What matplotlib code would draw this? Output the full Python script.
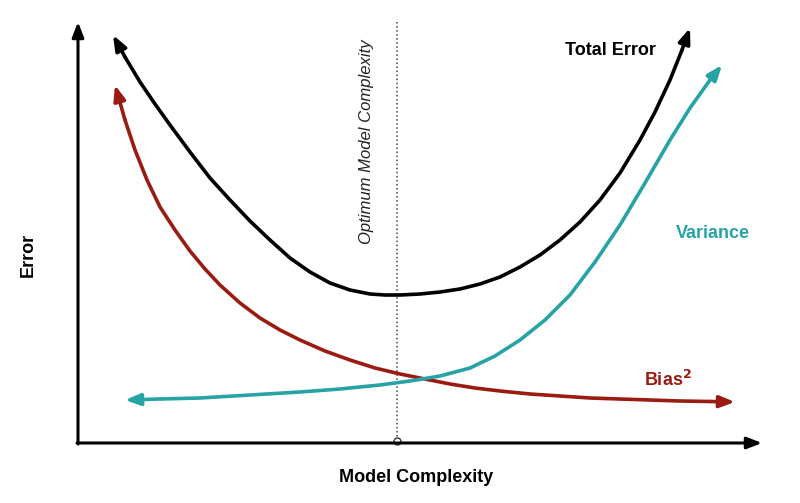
import matplotlib
matplotlib.use("Agg")
import matplotlib.pyplot as plt
import numpy as np

plt.rcParams['font.family'] = ['Liberation Sans', 'DejaVu Sans']

# curves in picture pixel coordinates (x, y from top)
bias_x = [115, 125, 135, 147, 160, 175, 190, 205, 220, 240, 260, 280, 300, 325, 350, 375, 400, 425, 450, 475, 500, 530, 560, 590, 620, 650, 680, 710, 735]
bias_y = [85, 120, 150, 180, 207, 230, 251, 269, 285, 303, 318, 330, 340, 351, 360, 368, 374, 379, 384, 388, 391, 394, 396, 398, 399, 400, 401, 401.5, 402]
var_x = [125, 160, 200, 250, 300, 340, 380, 410, 440, 470, 495, 520, 545, 570, 595, 620, 645, 670, 690, 710, 722]
var_y = [400, 399, 398, 395, 392, 389, 385, 381, 376, 368, 356, 340, 320, 295, 262, 225, 183, 140, 108, 80, 65]
tot_x = [113, 125, 140, 155, 170, 190, 210, 230, 250, 270, 290, 310, 330, 350, 370, 385, 400, 420, 440, 460, 480, 500, 520, 540, 560, 580, 600, 620, 640, 655, 670, 682, 690]
tot_y = [35, 57, 82, 104, 125, 152, 178, 200, 221, 240, 258, 272, 283, 290, 294, 295, 295, 294, 292, 289, 284, 277, 267, 255, 240, 222, 200, 173, 140, 112, 80, 50, 28]

fig = plt.figure(figsize=(8, 5.03), dpi=100)
ax = fig.add_axes([0, 0, 1, 1])
ax.set_xlim(0, 800); ax.set_ylim(503, 0); ax.axis('off')

def curve(xs, ys, color):
    xs = np.array(xs, float); ys = np.array(ys, float)
    ax.plot(xs[1:-1], ys[1:-1], color=color, lw=2.6, solid_capstyle='round', solid_joinstyle='round')
    ap = dict(arrowstyle='-|>,head_length=0.9,head_width=0.35', color=color, lw=2.6, shrinkA=0, shrinkB=0)
    ax.annotate('', xy=(xs[-1], ys[-1]), xytext=(xs[-2], ys[-2]), arrowprops=ap)
    ax.annotate('', xy=(xs[0], ys[0]), xytext=(xs[1], ys[1]), arrowprops=ap)

red = '#9a1b12'; teal = '#27a3a6'
ap = dict(arrowstyle='-|>,head_length=0.9,head_width=0.35', color='black', lw=2.2, shrinkA=0, shrinkB=0)
ax.annotate('', xy=(78, 22), xytext=(78, 444), arrowprops=ap)
ax.annotate('', xy=(762, 443), xytext=(77, 443), arrowprops=ap)

ax.plot([397, 397], [22, 437], ls=':', color='#444444', lw=1.1)
ax.plot([397], [441], marker='o', ms=5, mfc='white', mec='#333333', mew=1)

curve(bias_x, bias_y, red)
curve(var_x, var_y, teal)
curve(tot_x, tot_y, 'black')

ax.text(367, 142, 'Optimum Model Complexity', rotation=90, style='italic', fontsize=12,
        ha='center', va='center', color='#222222')
ax.text(610, 50, 'Total Error', fontsize=13, fontweight='bold', ha='center', va='center')
ax.text(713, 234, 'Variance', fontsize=13, fontweight='bold', ha='center', va='center', color=teal)
ax.text(668, 380, 'Bias$^\\mathbf{2}$', fontsize=13, fontweight='bold', ha='center', va='center', color=red)
ax.text(28, 255, 'Error', rotation=90, fontsize=13, fontweight='bold', ha='center', va='center')
ax.text(416, 478, 'Model Complexity', fontsize=13, fontweight='bold', ha='center', va='center')

fig.savefig('out.png', dpi=100, facecolor='white')
